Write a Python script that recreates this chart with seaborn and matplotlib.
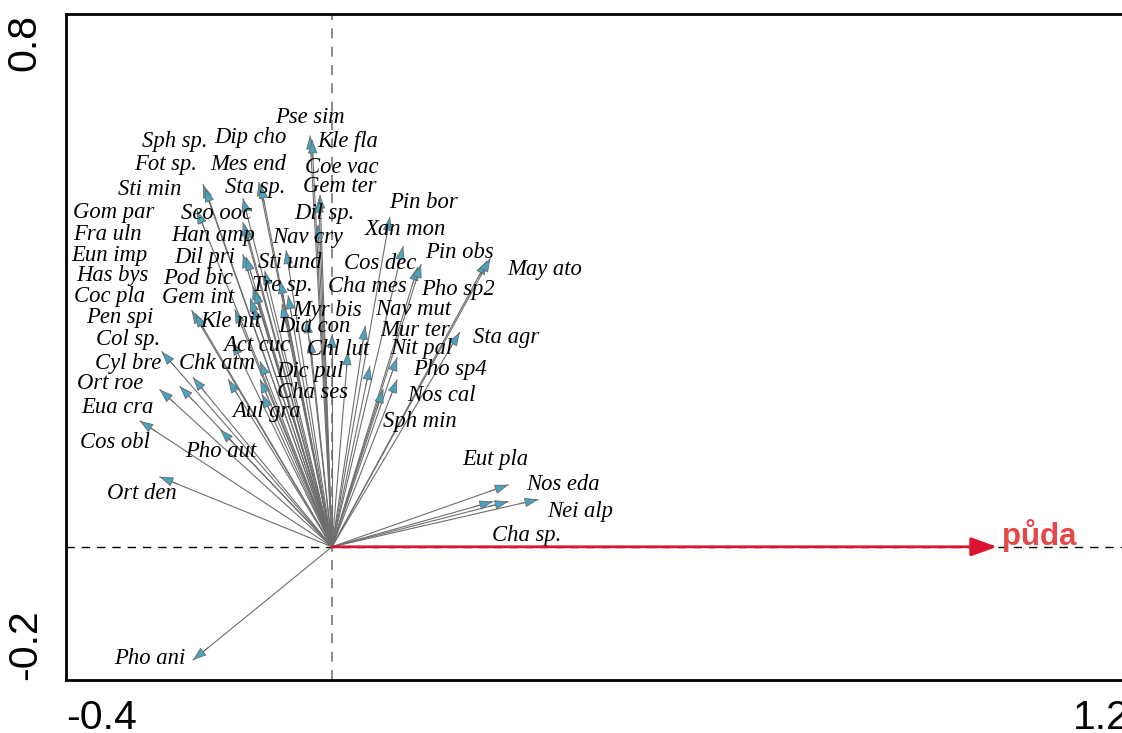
import matplotlib
matplotlib.use("Agg")
import matplotlib.pyplot as plt
from matplotlib.patches import FancyArrowPatch
import numpy as np
import pandas as pd
import seaborn as sns

# ---------------- data ----------------
species = [
    "Pse sim", "Sph sp.", "Dip cho", "Kle fla", "Fot sp.", "Mes end", "Coe vac",
    "Sti min", "Sta sp.", "Gem ter", "Pin bor", "Gom par", "Seo ooc", "Dil sp.",
    "Han amp", "Nav cry", "Xan mon", "Fra uln", "Eun imp", "Dil pri", "Pin obs",
    "Sti und", "Cos dec", "May ato", "Has bys", "Pod bic", "Tre sp.", "Cha mes",
    "Pho sp2", "Coc pla", "Gem int", "Myr bis", "Nav mut", "Pen spi", "Kle nit",
    "Dia con", "Mur ter", "Sta agr", "Col sp.", "Act cuc", "Chl lut", "Nit pal",
    "Cyl bre", "Chk atm", "Dic pul", "Pho sp4", "Ort roe", "Cha ses", "Nos cal",
    "Eua cra", "Aul gra", "Sph min", "Cos obl", "Pho aut", "Eut pla", "Nos eda",
    "Ort den", "Nei alp", "Cha sp.", "Pho ani",
]
axis1 = [
    -0.033, -0.194, -0.110, -0.030, -0.191, -0.107, -0.018,
    -0.203, -0.134, -0.020, 0.087, -0.131, -0.134, -0.021,
    -0.134, -0.069, 0.107, -0.129, -0.119, -0.101, 0.233,
    -0.078, 0.129, 0.238, -0.116, -0.119, -0.075, 0.050,
    0.134, -0.123, -0.211, -0.038, 0.098, -0.206, -0.146,
    -0.033, 0.057, 0.192, -0.256, -0.150, 0.024, 0.098,
    -0.229, -0.156, -0.108, 0.077, -0.259, -0.108, 0.000,
    -0.209, -0.105, -0.066, -0.289, -0.168, 0.265, 0.310,
    -0.259, 0.265, 0.242, -0.209,
]
axis2 = [
    0.617, 0.544, 0.547, 0.611, 0.538, 0.543, 0.528,
    0.505, 0.523, 0.522, 0.495, 0.483, 0.487, 0.483,
    0.439, 0.445, 0.451, 0.435, 0.391, 0.414, 0.429,
    0.400, 0.420, 0.433, 0.385, 0.361, 0.364, 0.331,
    0.424, 0.373, 0.355, 0.341, 0.284, 0.350, 0.356,
    0.311, 0.271, 0.322, 0.293, 0.308, 0.293, 0.251,
    0.241, 0.251, 0.278, 0.236, 0.236, 0.251, 0.319,
    0.254, 0.229, 0.377, 0.189, 0.176, 0.093, 0.071,
    0.105, 0.068, 0.068, -0.170,
]
env_name = "půda"
env_axis1 = 1.0
env_axis2 = 0.0

x_ticks = [-0.4, -0.2, 0.0, 0.2, 0.4, 0.6, 0.8, 1.0, 1.2]
x_ticklabels = ["-0.4", "", "", "", "", "", "", "", "1.2"]
y_ticks = [-0.2, 0.0, 0.2, 0.4, 0.6, 0.8]
y_ticklabels = ["-0.2", "", "", "", "", "0.8"]

# ---------------- layout (label placement) ----------------
label_x = [
    -0.033, -0.236, -0.123, 0.024, -0.251, -0.126, 0.015,
    -0.274, -0.116, 0.012, 0.137, -0.329, -0.174, -0.011,
    -0.179, -0.036, 0.110, -0.338, -0.334, -0.191, 0.192,
    -0.063, 0.072, 0.320, -0.331, -0.202, -0.075, 0.053,
    0.189, -0.334, -0.202, -0.008, 0.122, -0.319, -0.153,
    -0.026, 0.125, 0.262, -0.307, -0.113, 0.009, 0.135,
    -0.307, -0.173, -0.033, 0.177, -0.334, -0.030, 0.164,
    -0.323, -0.098, 0.132, -0.326, -0.168, 0.245, 0.347,
    -0.286, 0.373, 0.292, -0.274,
]
label_y = [
    0.645, 0.608, 0.615, 0.608, 0.574, 0.574, 0.570,
    0.537, 0.540, 0.541, 0.517, 0.502, 0.501, 0.501,
    0.468, 0.465, 0.477, 0.469, 0.438, 0.435, 0.442,
    0.427, 0.426, 0.417, 0.408, 0.403, 0.392, 0.391,
    0.386, 0.376, 0.374, 0.355, 0.356, 0.344, 0.338,
    0.331, 0.325, 0.314, 0.311, 0.302, 0.296, 0.298,
    0.275, 0.275, 0.263, 0.266, 0.245, 0.232, 0.227,
    0.209, 0.203, 0.188, 0.156, 0.143, 0.131, 0.093,
    0.080, 0.053, 0.017, -0.167,
]

sns.set_style("white")
plt.rcParams["font.family"] = ["Liberation Sans", "DejaVu Sans"]

fig = plt.figure(figsize=(11.22, 7.33), dpi=100)
ax = fig.add_axes([66 / 1122, 53 / 733, 1064 / 1122, 666 / 733])

# shafts via seaborn
rows = []
for s, x, y in zip(species, axis1, axis2):
    rows.append({"species": s, "x": 0.0, "y": 0.0})
    rows.append({"species": s, "x": x, "y": y})
df = pd.DataFrame(rows)
sns.lineplot(data=df, x="x", y="y", units="species", estimator=None, sort=False,
             color="#6e6e6e", linewidth=0.8, ax=ax, legend=False, zorder=3)

# arrow heads
for x, y in zip(axis1, axis2):
    L = np.hypot(x, y)
    ux, uy = x / L, y / L
    p = FancyArrowPatch((x - 0.03 * ux, y - 0.03 * uy), (x, y),
                        arrowstyle="-|>,head_length=0.85,head_width=0.3",
                        mutation_scale=10, shrinkA=0, shrinkB=0,
                        facecolor="#4aa3be", edgecolor="#686868",
                        linewidth=0.6, zorder=4)
    ax.add_patch(p)

# species labels
for s, lx, ly in zip(species, label_x, label_y):
    ax.text(lx, ly, s, ha="center", va="center", fontsize=16.3,
            family="Liberation Serif", style="italic", color="black", zorder=5)

# reference lines
ax.axhline(0, color="black", lw=1.0, ls=(0, (6, 5)), zorder=1)
ax.axvline(0, color="#777777", lw=1.2, ls=(0, (6, 5)), zorder=1)

# environmental arrow
env = FancyArrowPatch((0, 0), (env_axis1, env_axis2),
                      arrowstyle="-|>,head_length=1.6,head_width=0.58",
                      mutation_scale=10, shrinkA=0, shrinkB=0,
                      color="#dc1432", linewidth=2.0, zorder=6)
ax.add_patch(env)
ax.text(env_axis1 + 0.007, env_axis2 + 0.002, env_name, ha="left", va="baseline",
        fontsize=22.5, fontweight="bold", color="#e64848", zorder=7)

ax.set_xlim(-0.4, 1.2)
ax.set_ylim(-0.2, 0.8)
ax.set_xlabel("")
ax.set_ylabel("")

ax.set_xticks(x_ticks)
ax.set_xticklabels(x_ticklabels, fontsize=29.5)
ax.set_yticks(y_ticks)
ax.set_yticklabels(y_ticklabels, fontsize=29.5, rotation=90)
xl = ax.get_xticklabels()
xl[0].set_ha("left")
xl[-1].set_ha("right")
yl = ax.get_yticklabels()
yl[0].set_va("bottom")
yl[-1].set_va("top")

ax.tick_params(axis="both", direction="out", length=7, width=2, color="black",
               labelcolor="black")
ax.tick_params(axis="x", pad=7)
ax.tick_params(axis="y", pad=9)
for sp in ax.spines.values():
    sp.set_linewidth(2)
    sp.set_color("black")

fig.savefig("out.png", dpi=100)
